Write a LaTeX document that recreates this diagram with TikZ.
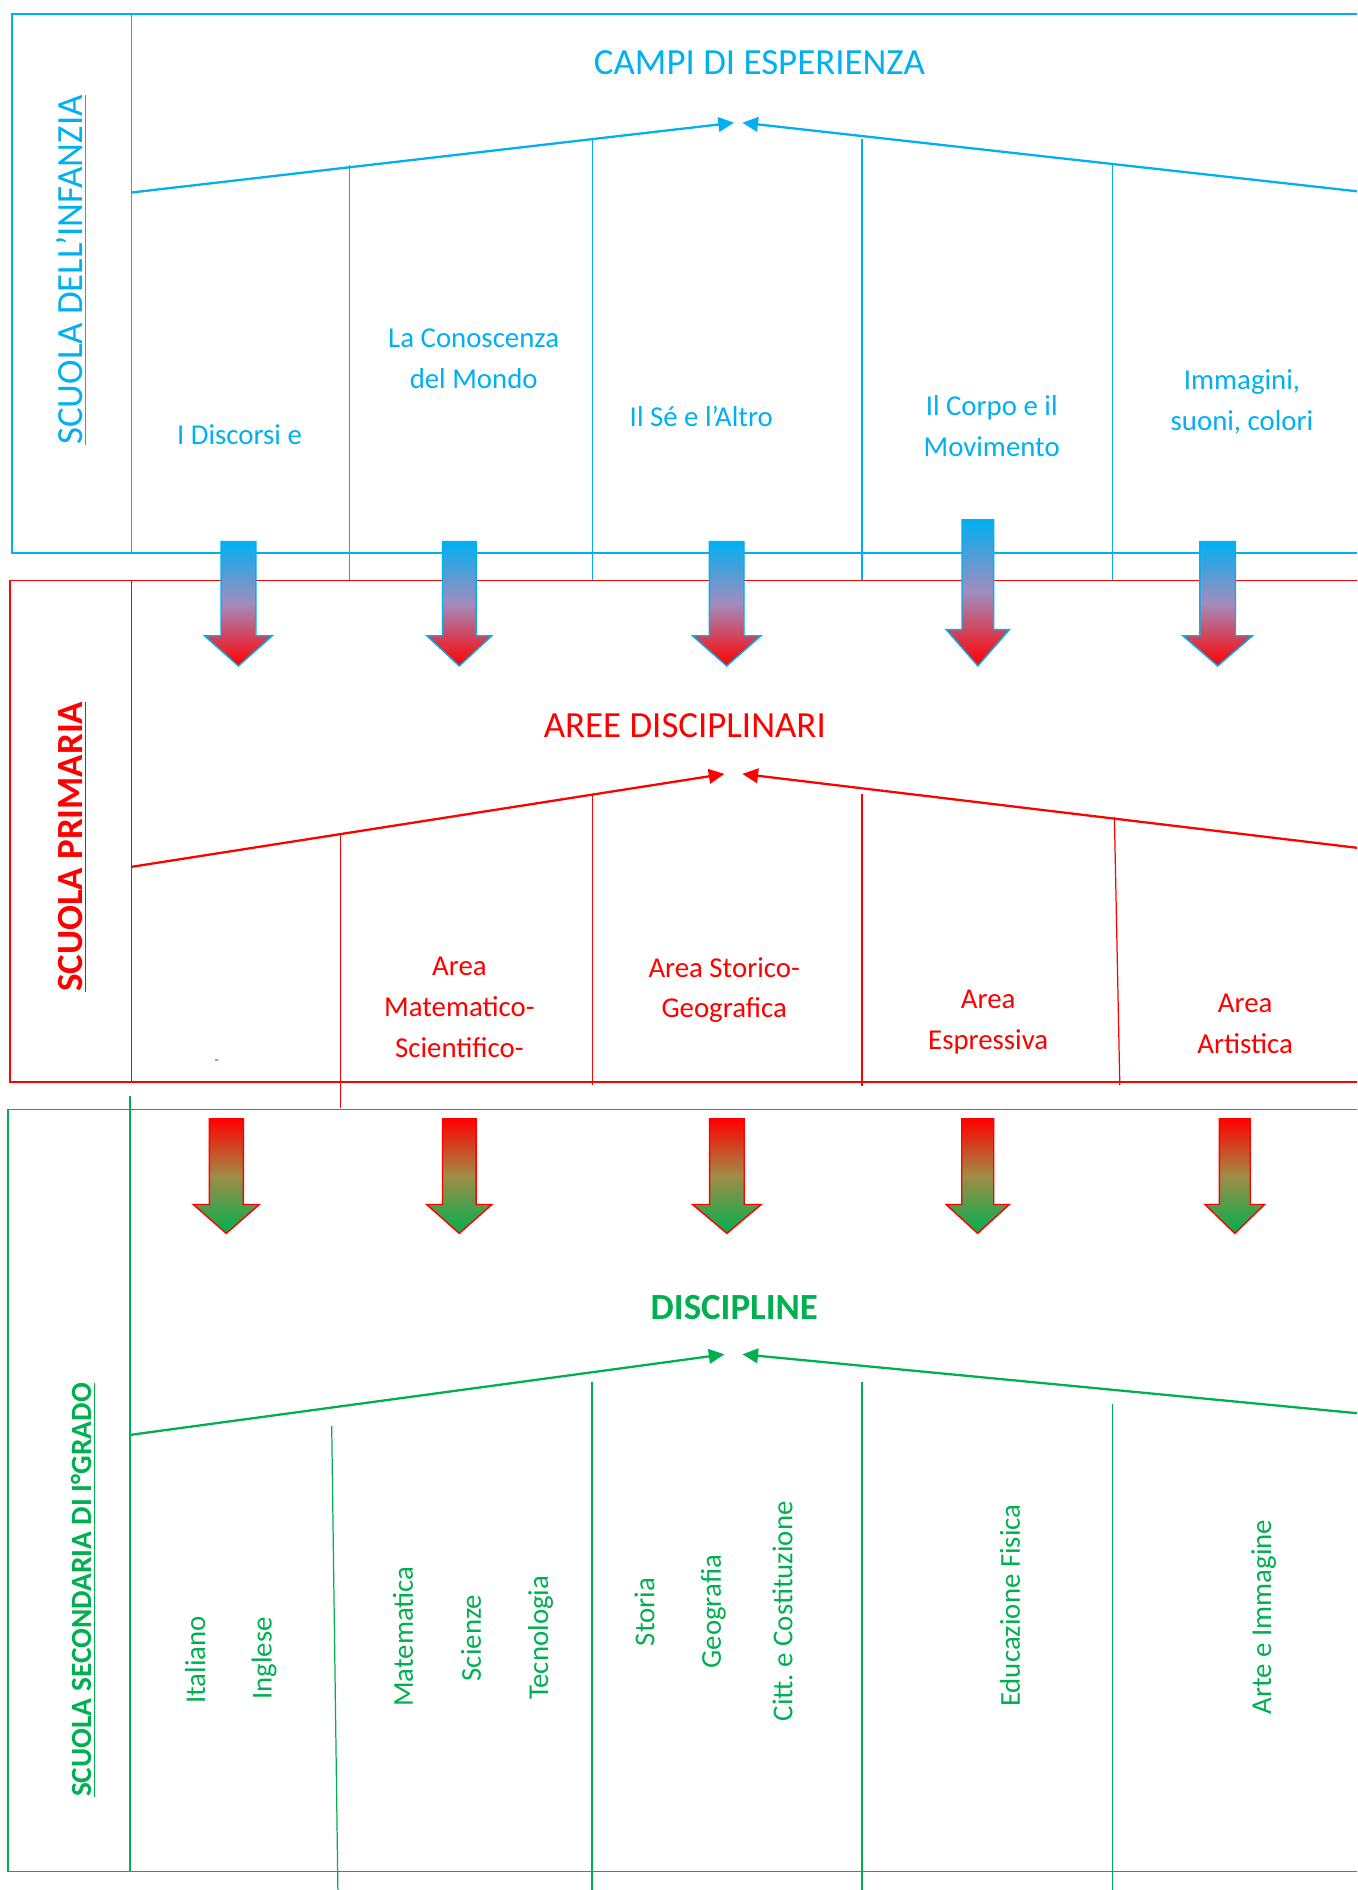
\documentclass[tikz,border=0pt]{standalone}
\usepackage{fontspec}
\setmainfont{Carlito}
\usetikzlibrary{arrows.meta}
\definecolor{infanzia}{HTML}{00B0F0}
\definecolor{primaria}{HTML}{FF0000}
\definecolor{secondaria}{HTML}{00B050}
\definecolor{lilla}{RGB}{162,140,188}
\definecolor{oliva}{RGB}{160,140,70}

\begin{document}
\begin{tikzpicture}[x=0.02cm,y=-0.02cm]
  \tikzstyle{frame}=[line width=0.8pt]
  \tikzstyle{divider}=[line width=0.7pt]
  \tikzstyle{edge}=[line width=1.3pt,-{Triangle[length=8.9pt,width=8.3pt]}]
  \tikzstyle{heading}=[font=\fontsize{21}{25}\selectfont,anchor=base,inner sep=0pt]
  \tikzstyle{field}=[font=\fontsize{16.4}{23.2}\selectfont,align=center,inner sep=0pt]
  \tikzstyle{subject}=[font=\fontsize{16.4}{20}\selectfont,rotate=90,inner sep=0pt]
  \tikzstyle{school}=[rotate=90,anchor=base,inner sep=0pt]
  \tikzstyle{passage}=[line width=0.8pt]

  \useasboundingbox (0,0) rectangle (1357,1890);
  \clip (0,0) rectangle (1357,1890);

  % scuola dell'infanzia
  \begin{scope}[color=infanzia]
    \draw[frame] (1370,14.2) -- (12,14.2) -- (12,553) -- (1370,553);
    \draw[frame] (131.7,14.2) -- (131.7,553);
    \draw[divider] (349.5,165.3) -- (349.5,580);
    \draw[divider] (592.8,139.7) -- (592.8,580);
    \draw[divider] (861.9,138.5) -- (861.9,580);
    \draw[divider] (1112.2,163.8) -- (1112.2,580);

    \node [school,font=\fontsize{21}{25}\selectfont] (inf) at (82.6,270) {\underline{SCUOLA DELL’INFANZIA}};
    \node [heading] (campi) at (759.4,74.6) {CAMPI DI ESPERIENZA};

    \coordinate (infL) at (131.7,192.5);
    \coordinate (infR) at (1357,191.3);
    \coordinate (infT1) at (734,122.7);
    \coordinate (infT2) at (742.4,122.7);
    \path[edge] (infL) edge (infT1);
    \path[edge] (infR) edge (infT2);

    \node [field,anchor=base] (f1) at (239.5,444) {I Discorsi e};
    \node [field] (f2) at (473.7,358.5) {La Conoscenza\\del Mondo};
    \node [field,anchor=base] (f3) at (701.3,426.7) {Il Sé e l’Altro};
    \node [field] (f4) at (991.7,426) {Il Corpo e il\\Movimento};
    \node [field] (f5) at (1242,402) {Immagini,\\suoni, colori};
  \end{scope}

  % scuola primaria
  \begin{scope}[color=primaria]
    \draw[frame] (1370,580.4) -- (9.8,580.4) -- (9.8,1082) -- (1370,1082);
    \draw[frame] (131.7,580.4) -- (131.7,1082);
    \draw[divider] (340.6,834.6) -- (340.6,1108.4);
    \draw[divider] (592.8,794.3) -- (592.8,1085);
    \draw[divider] (861.9,793.5) -- (861.9,1085.6);
    \draw[divider] (1114.4,816.8) -- (1119.8,1085);

    \node [school,font=\fontsize{21}{25}\selectfont\bfseries] (pri) at (82.6,846.8) {\underline{SCUOLA PRIMARIA}};
    \node [heading] (aree) at (684.8,737) {AREE DISCIPLINARI};

    \coordinate (priL) at (131.7,866.8);
    \coordinate (priR) at (1357,847.8);
    \coordinate (priT1) at (724.4,773.9);
    \coordinate (priT2) at (742.4,773.9);
    \path[edge] (priL) edge (priT1);
    \path[edge] (priR) edge (priT2);

    \node [font=\fontsize{8}{8}\selectfont,inner sep=0pt] (a1) at (216.7,1062.3) {-};
    \node [field] (a2) at (459.4,1007.4) {Area\\Matematico-\\Scientifico-};
    \node [field] (a3) at (724.2,990) {Area Storico-\\Geografica};
    \node [field] (a4) at (988.2,1022) {Area\\Espressiva};
    \node [field] (a5) at (1245.2,1024.2) {Area\\Artistica};
  \end{scope}

  % scuola secondaria
  \begin{scope}[color=secondaria]
    \draw[frame] (1370,1109.4) -- (8,1109.4) -- (8,1871.4) -- (1370,1871.4);
    \draw[frame] (129.9,1095.5) -- (129.9,1871.4);
    \draw[divider] (331.7,1426) -- (337.9,1890);
    \draw[divider] (592,1382.2) -- (592,1890);
    \draw[divider] (861.9,1382) -- (861.9,1890);
    \draw[divider] (1112.2,1404) -- (1112.2,1890);

    \node [school,font=\fontsize{16.7}{20}\selectfont\bfseries] (sec) at (91.5,1590) {\underline{SCUOLA SECONDARIA DI I°GRADO}};
    \node [heading,font=\fontsize{21}{25}\selectfont\bfseries] (disc) at (734.3,1319) {DISCIPLINE};

    \coordinate (secL) at (129.9,1434.9);
    \coordinate (secR) at (1357,1413.2);
    \coordinate (secT1) at (724.4,1354.3);
    \coordinate (secT2) at (742.4,1354.3);
    \path[edge] (secL) edge (secT1);
    \path[edge] (secR) edge (secT2);

    \node [subject] (d1) at (195.3,1660) {Italiano};
    \node [subject] (d2) at (264,1658.6) {Inglese};
    \node [subject] (d3) at (402.9,1636.7) {Matematica};
    \node [subject] (d4) at (471,1638) {Scienze};
    \node [subject] (d5) at (540.5,1637.8) {Tecnologia};
    \node [subject] (d6) at (644.5,1612) {Storia};
    \node [subject] (d7) at (713.3,1611.6) {Geografia};
    \node [subject] (d8) at (782.5,1611.3) {Citt.\ e Costituzione};
    \node [subject] (d9) at (1010,1605.6) {Educazione Fisica};
    \node [subject] (d10) at (1263.7,1617) {Arte e Immagine};
  \end{scope}

  % frecce tra i livelli
  \foreach \x/\t/\b/\s/\h in {238.4/541.5/635.7/17.4/34, 459.3/541.5/635.7/16.8/32.6,
      726.7/541.5/635.7/17.3/34.3, 977.8/519.7/629.6/15.8/31.6, 1217.7/541.5/635.7/17.8/34.9}
    \path[passage,draw=infanzia,top color=infanzia,bottom color=primaria,middle color=lilla]
      ({\x-\s},\t) -- ({\x+\s},\t) -- ({\x+\s},\b) -- ({\x+\h},\b) -- (\x,666)
      -- ({\x-\h},\b) -- ({\x-\s},\b) -- cycle;
  \foreach \x/\s/\h in {226.3/17/33, 459.3/16.8/32.6, 726.9/17.3/34.3, 977.7/16/31.6, 1234.8/15.4/29.8}
    \path[passage,draw=primaria,top color=primaria,bottom color=secondaria,middle color=oliva]
      ({\x-\s},1118.7) -- ({\x+\s},1118.7) -- ({\x+\s},1204.5) -- ({\x+\h},1204.5) -- (\x,1233.4)
      -- ({\x-\h},1204.5) -- ({\x-\s},1204.5) -- cycle;
\end{tikzpicture}
\end{document}
